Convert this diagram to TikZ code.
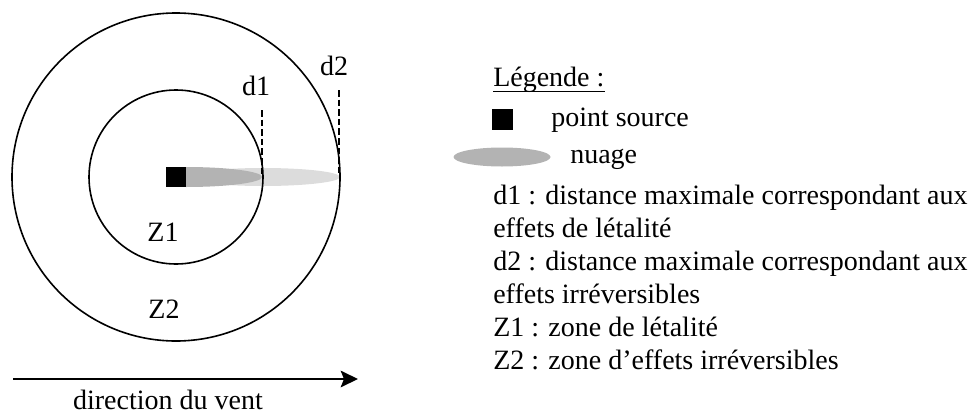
\documentclass[tikz,border=0pt]{standalone}
\usepackage{fontspec}
\setmainfont{Liberation Serif}
\usetikzlibrary{arrows.meta}
\definecolor{cloudDark}{HTML}{B3B3B3}
\definecolor{cloudLight}{HTML}{DCDCDC}
\begin{document}
\begin{tikzpicture}[x=0.75pt,y=-0.75pt,
  txt/.style={inner sep=0pt,font=\fontsize{21}{25}\selectfont},
  zone/.style={draw=black,line width=1.2pt},
  marker/.style={draw=none,fill=black,inner sep=0pt,minimum size=15pt},
  limit/.style={line width=0.8pt,dash pattern=on 5pt off 2.2pt},
  wind/.style={line width=1.2pt,-{Stealth[length=13pt,width=12.5pt,inset=2.5pt]}}]
\useasboundingbox (0,0) rectangle (970,414);

% plume: faint far part, then denser near part
\fill[cloudLight] (263,177) ellipse[x radius=77,y radius=9];
\fill[cloudDark] (186,187) arc[start angle=90,end angle=-90,x radius=76,y radius=10] -- cycle;

% zones
\coordinate (ctr) at (176,177);
\draw[zone] (ctr) circle[radius=164];
\draw[zone] (ctr) circle[radius=87];
\node[marker] (src) at (ctr) {};

% distance markers
\coordinate (d1top) at (262,110);
\coordinate (d1bot) at (262,176);
\coordinate (d2top) at (339,90);
\coordinate (d2bot) at (339,176);
\draw[limit] (d1top) -- (d1bot);
\draw[limit] (d2top) -- (d2bot);
\node[txt,anchor=base] (d1) at (256,95) {d1};
\node[txt,anchor=base] (d2) at (334,75) {d2};
\node[txt,anchor=base] (z1) at (163,241) {Z1};
\node[txt,anchor=base] (z2) at (164,318) {Z2};

% wind direction
\coordinate (wA) at (13,379);
\coordinate (wB) at (358,379);
\draw[wind] (wA) -- (wB);
\node[txt,anchor=base] (wind) at (168,409) {direction du vent};

% legend
\node[txt,anchor=base west] (leg) at (493,86) {Légende :};
\draw[line width=0.8pt] ([yshift=-3.8pt]leg.base west) -- ([yshift=-3.8pt]leg.base east);
\node[marker,minimum size=15.5pt] (lsq) at (502.5,119.5) {};
\node[txt,anchor=base west] (lsrc) at (551,126) {point source};
\fill[cloudDark] (502,157) ellipse[x radius=48.5,y radius=9.5];
\coordinate (lcloud) at (502,157);
\node[txt,anchor=base west] (lnuage) at (570,163) {nuage};
\node[txt,anchor=base west] (l1) at (493,204) {d1 : distance maximale correspondant aux};
\node[txt,anchor=base west] (l2) at (493,237) {effets de létalité};
\node[txt,anchor=base west] (l3) at (493,270) {d2 : distance maximale correspondant aux};
\node[txt,anchor=base west] (l4) at (493,303) {effets irréversibles};
\node[txt,anchor=base west] (l5) at (493,336) {Z1 : zone de létalité};
\node[txt,anchor=base west] (l6) at (493,369) {Z2 : zone d’effets irréversibles};
\end{tikzpicture}
\end{document}
